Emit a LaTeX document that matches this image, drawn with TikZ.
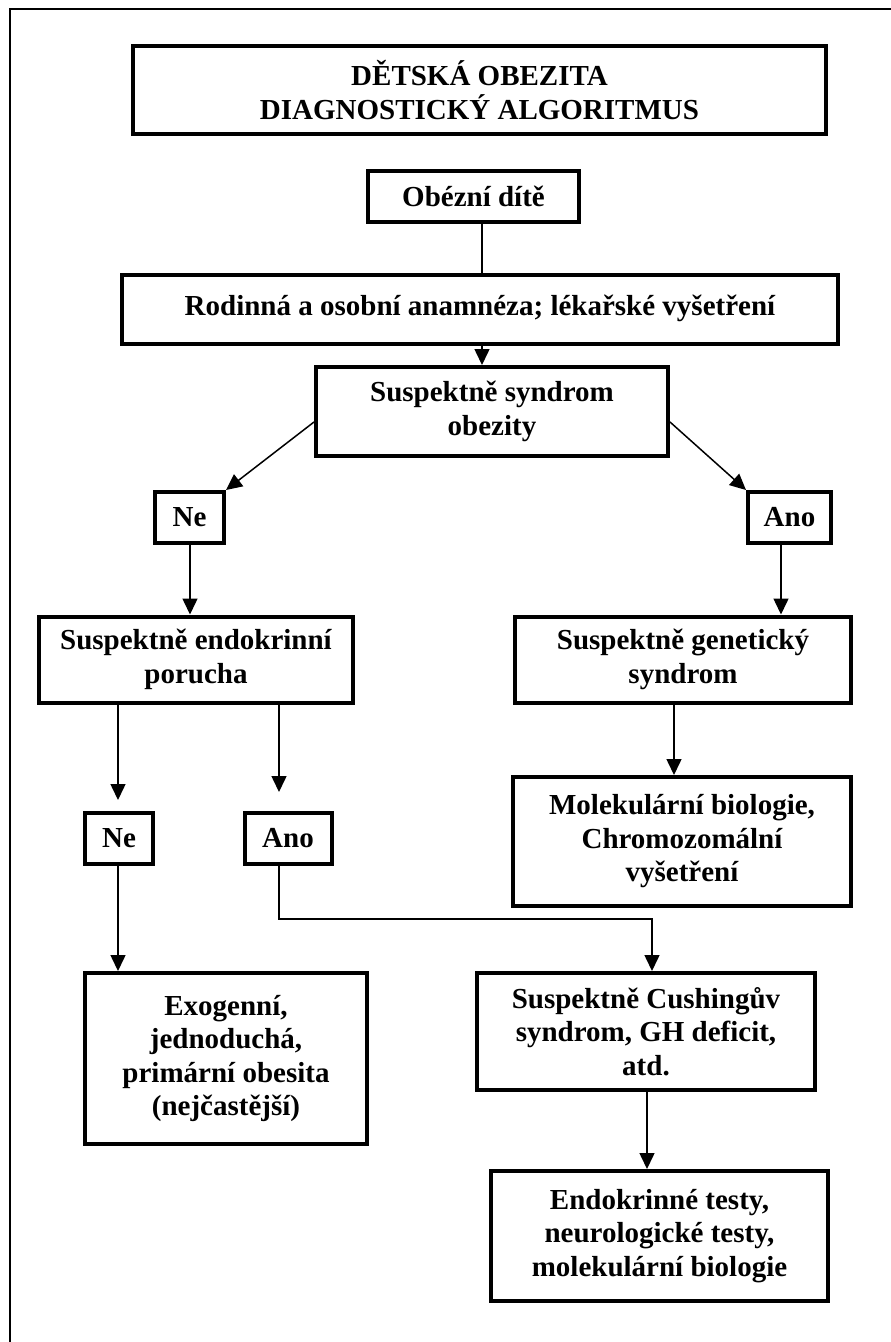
\documentclass[tikz,border=0pt]{standalone}
\usepackage{fontspec}
\setmainfont{Liberation Serif}
\usetikzlibrary{arrows.meta,calc}
\begin{document}
\begin{tikzpicture}[x=1pt,y=-1pt,
  bx/.style 2 args={draw,line width=4pt,align=center,inner sep=0pt,
    minimum width=#1,minimum height=#2,
    font=\bfseries\fontsize{29}{33.5}\selectfont},
  conn/.style={line width=1.5pt},
  arr/.style={conn,-{Triangle[width=15pt,length=16pt]}}]
\useasboundingbox (0,0) rectangle (891,1342);
\fill[white] (0,0) rectangle (891,1342);
% outer frame (top and left edges)
\draw[line width=2.6pt] (10,1342) -- (10,9) -- (891,9);
% nodes
\node[bx={693pt}{88pt}] (title) at (479.5,90) {DĚTSKÁ OBEZITA\\DIAGNOSTICKÝ ALGORITMUS};
\node[bx={211pt}{51pt}] (obez) at (473.5,196.5) {Obézní dítě};
\node[bx={716pt}{69pt}] (rod) at (480,309.5) {\raisebox{8pt}{Rodinná a osobní anamnéza; lékařské vyšetření}};
\node[bx={352pt}{89pt}] (synd) at (492,411.5) {Suspektně syndrom\\obezity};
\node[bx={69pt}{51pt}] (ne1) at (189.5,517.5) {Ne};
\node[bx={83pt}{51pt}] (ano1) at (789.5,517.5) {Ano};
\node[bx={314pt}{86pt}] (endo) at (196,659.5) {Suspektně endokrinní\\porucha};
\node[bx={336pt}{86pt}] (gen) at (683,659.5) {Suspektně genetický\\syndrom};
\node[bx={68pt}{51pt}] (ne2) at (119,838.5) {Ne};
\node[bx={87pt}{51pt}] (ano2) at (288,838.5) {Ano};
\node[bx={338pt}{129pt}] (mol) at (682,841.5) {Molekulární biologie,\\Chromozomální\\vyšetření};
\node[bx={282pt}{171pt}] (exo) at (226,1058.5) {Exogenní,\\jednoduchá,\\primární obesita\\(nejčastější)};
\node[bx={338pt}{117pt}] (cush) at (646,1031.5) {Suspektně Cushingův\\syndrom, GH deficit,\\atd.};
\node[bx={337pt}{130pt}] (endt) at (659.5,1236) {Endokrinné testy,\\neurologické testy,\\molekulární biologie};
% helper coordinates
\coordinate (cx) at (482,0);
\coordinate (neA) at (190,0);
\coordinate (anoA) at (781,0);
\coordinate (ne2in) at (118,800);
\coordinate (ano2in) at (279,792);
\coordinate (genx) at (674,0);
\coordinate (bend) at (279,919);
\coordinate (cushx) at (652,0);
\coordinate (cx3) at (647,0);
% connectors
\draw[conn] (obez.south -| cx) -- (rod.north -| cx);
\draw[arr] (rod.south -| cx) -- (synd.north -| cx);
\draw[arr] ([yshift=-10.5pt]synd.west) -- (ne1.north east);
\draw[arr] ([yshift=-10.5pt]synd.east) -- (ano1.north west);
\draw[arr] (ne1.south -| neA) -- (endo.north -| neA);
\draw[arr] (ano1.south -| anoA) -- (gen.north -| anoA);
\draw[arr] (endo.south -| ne2in) -- (ne2in);
\draw[arr] (endo.south -| ano2in) -- (ano2in);
\draw[arr] (gen.south -| genx) -- (mol.north -| genx);
\draw[arr] (ne2.south -| ne2in) -- (exo.north -| ne2in);
\draw[arr] (ano2.south -| bend) -- (bend) -- (bend -| cushx) -- (cush.north -| cushx);
\draw[arr] (cush.south -| cx3) -- (endt.north -| cx3);
\end{tikzpicture}
\end{document}
